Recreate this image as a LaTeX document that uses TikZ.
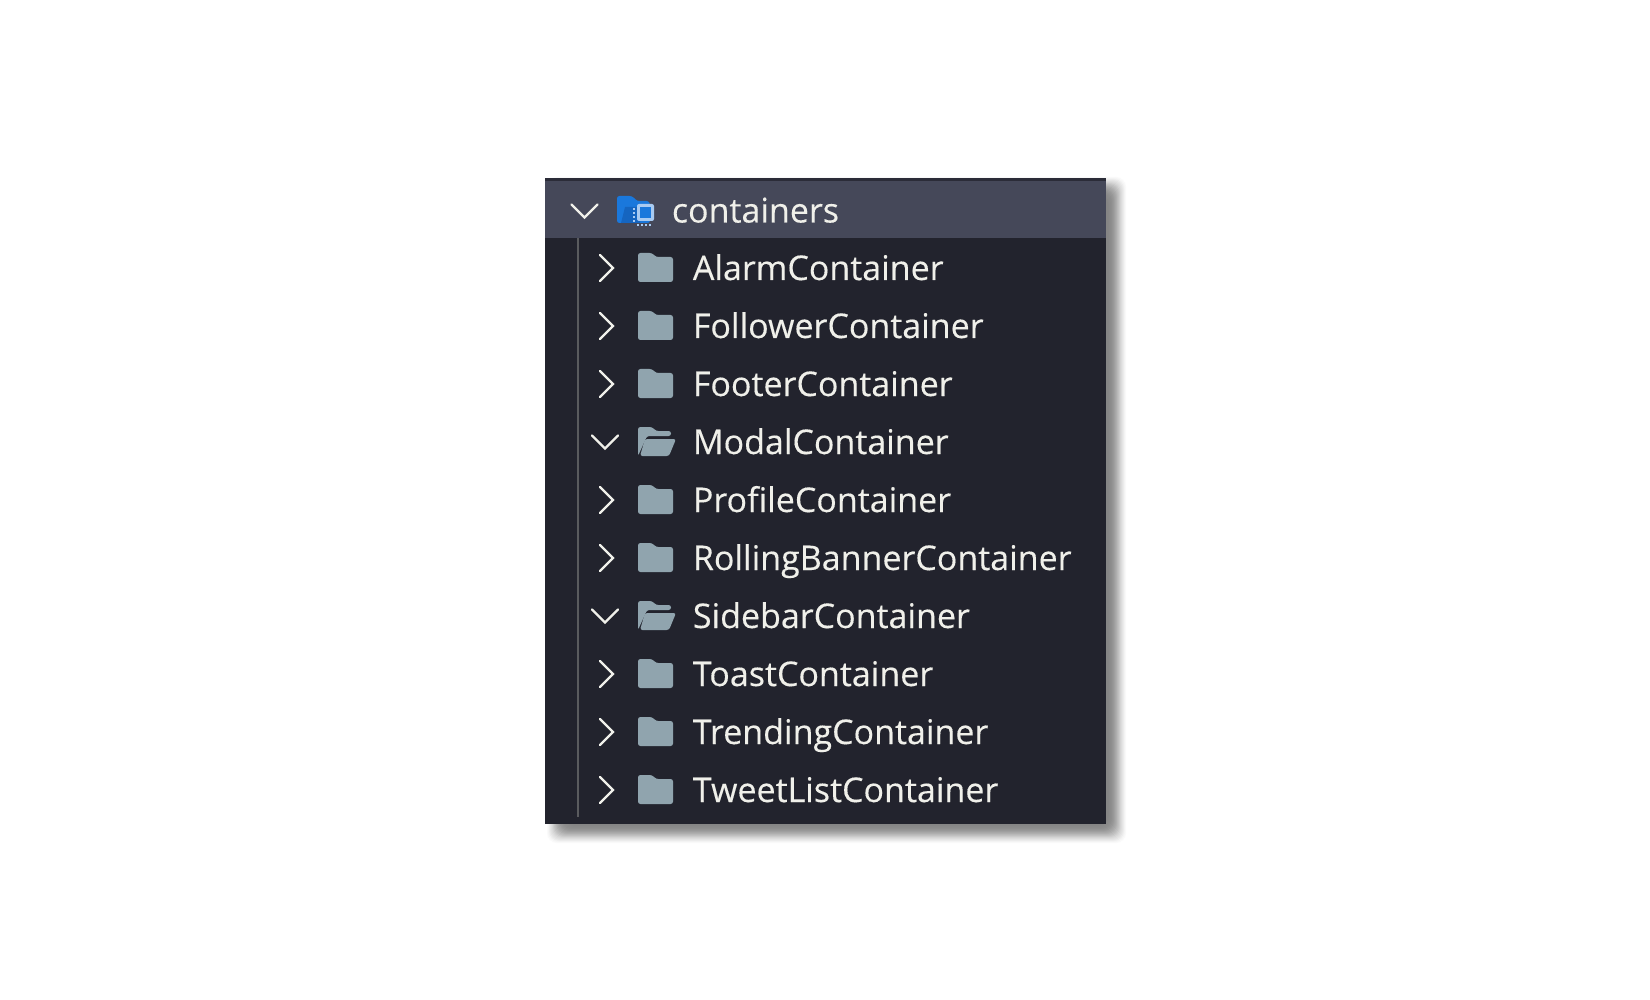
\documentclass[tikz,border=0pt]{standalone}
\usepackage{fontspec}
\setmainfont{Open Sans}
\definecolor{panelc}{HTML}{22232D}
\definecolor{headc}{HTML}{454859}
\definecolor{stripc}{HTML}{2B2C38}
\definecolor{folderc}{HTML}{90A4AE}
\definecolor{textc}{HTML}{F0F0EA}
\definecolor{guidec}{HTML}{5A5B5E}
\definecolor{bluec}{HTML}{1A78DC}
\definecolor{bluedark}{HTML}{1565C0}
\definecolor{chipc}{HTML}{A9CBF2}
\tikzset{
  rowtext/.style={anchor=base west,inner sep=0pt,text=textc,font=\fontsize{17}{20}\selectfont\addfontfeature{FakeBold=0.25}},
  chev/.style={draw=textc,line width=1.1pt,line cap=round,line join=miter},
  foldericon/.style={fill=folderc,draw=none}
}
\newcommand{\closedfolder}[1]{%
  \fill[foldericon,rounded corners=1.2pt] (638,#1-15) -- (652,#1-15) -- (656,#1-11) -- (673,#1-11) -- (673,#1+14) -- (638,#1+14) -- cycle;
}
\newcommand{\openfolder}[1]{%
  \fill[foldericon,rounded corners=1.2pt] (638,#1+14) -- (638,#1-15) -- (652,#1-15) -- (656,#1-11) -- (671,#1-11) -- (671,#1-6) -- (647,#1-6) -- cycle;
  \fill[foldericon,rounded corners=1.2pt] (645,#1-3) -- (676,#1-3) -- (669,#1+14) -- (640,#1+14) -- cycle;
}
\newcommand{\rightchev}[1]{\draw[chev] (600,#1-13) -- (613,#1) -- (600,#1+13);}
\newcommand{\downchev}[2]{\draw[chev] (#1-13,#2-6.5) -- (#1,#2+6.5) -- (#1+13,#2-6.5);}
\begin{document}
\begin{tikzpicture}[x=0.5pt,y=-0.5pt]
\useasboundingbox (0,0) rectangle (1650,1000);
\fill[white] (0,0) rectangle (1650,1000);
% soft shadow, light outside to dark inside
\foreach \d/\k in {11/2,10/4,9/7,8/10,7/13,6/16,5/20,4/24,3/27,2/31,1/34,0/37,-1/40,-2/42,-3/44,-4/45,-5/46,-6/47,-7/48}{
  \fill[black!\k!white,rounded corners=5pt] ({558-\d},{188-\d}) rectangle ({1115+\d},{832+\d});
}
% panel
\fill[panelc] (545,178) rectangle (1106,824);
\fill[headc] (545,181) rectangle (1106,238);
\fill[stripc] (545,178) rectangle (1106,181);
\draw[guidec,line width=1.4pt] (578,238) coordinate (g1) -- (578,817) coordinate (g2);
% header
\downchev{584.5}{211}
\fill[bluec,rounded corners=1.2pt] (617,223) -- (617,196) -- (632,196) -- (637,201) -- (649,201) -- (650,205) -- (650,223) -- cycle;
\fill[bluedark] (621,223) -- (625,207) -- (640,207) -- (640,223) -- cycle;
\fill[chipc,rounded corners=1pt] (637,204) rectangle (654,221);
\fill[bluec] (640,207) rectangle (651,218);
\foreach \yy in {208,212,216,220}{\fill[chipc] (632.5,\yy) rectangle (634.5,\yy+2);}
\foreach \xx in {637,641,645,649}{\fill[chipc] (\xx,224) rectangle (\xx+2,226);}
\node[rowtext] (root) at (671.5,222.5) {containers};
% rows
\foreach \nm/\yy/\kind in {AlarmContainer/268/c,FollowerContainer/326/c,FooterContainer/384/c,ModalContainer/442/o,ProfileContainer/500/c,RollingBannerContainer/558/c,SidebarContainer/616/o,ToastContainer/674/c,TrendingContainer/732/c,TweetListContainer/790/c}{
  \if\kind c\relax
    \rightchev{\yy}\closedfolder{\yy}
  \else
    \downchev{605}{\yy}\openfolder{\yy}
  \fi
  \node[rowtext] (\nm) at (692.5,\yy+12) {\nm};
}
\end{tikzpicture}
\end{document}
